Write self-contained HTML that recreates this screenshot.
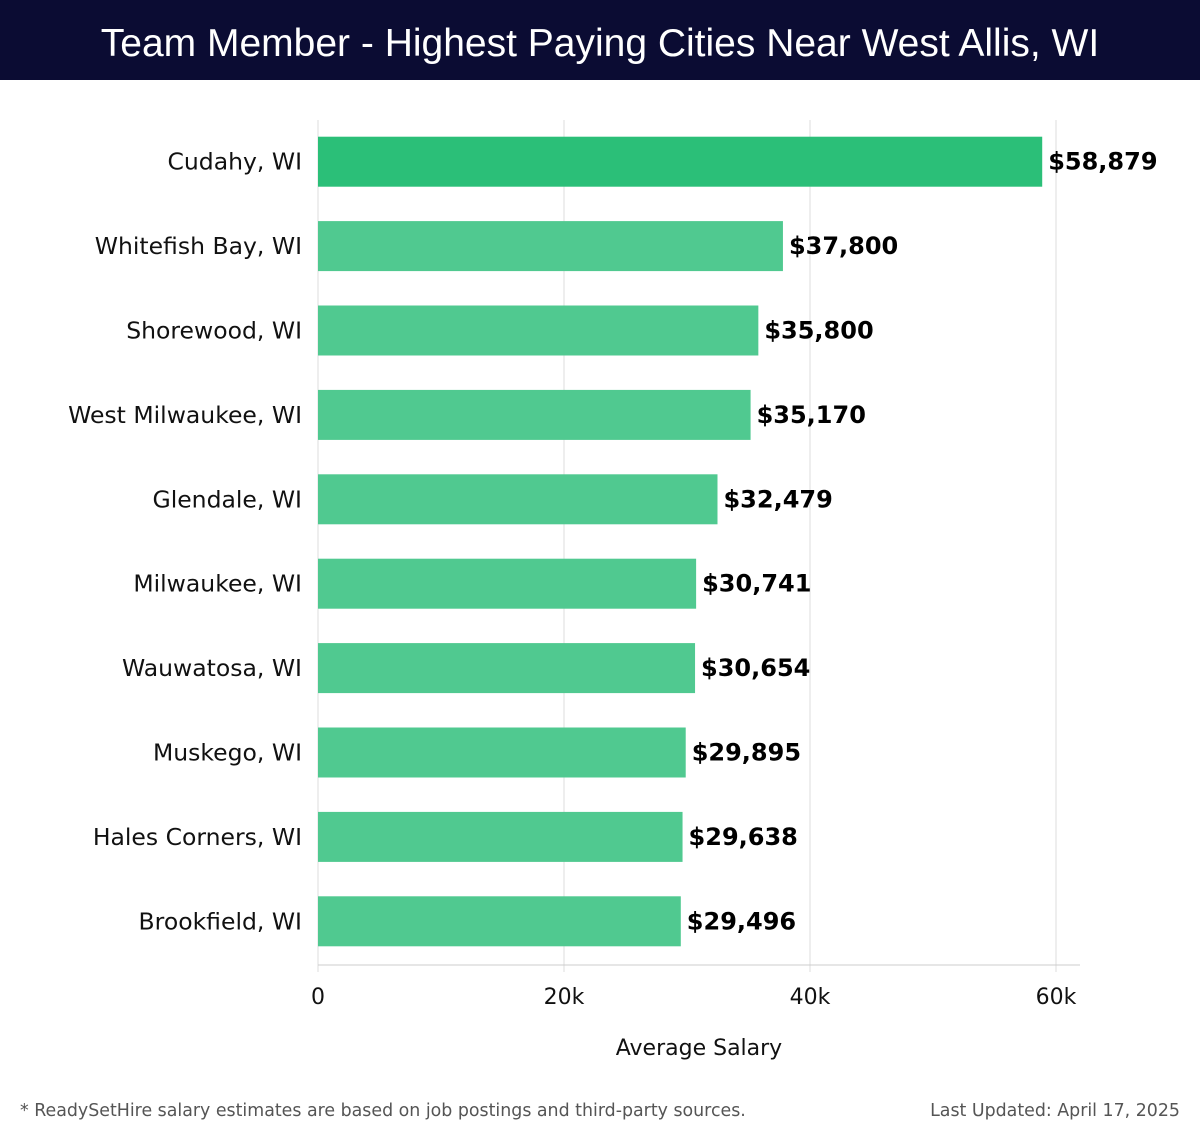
<!DOCTYPE html>
<html><head><meta charset="utf-8"><style>
body{margin:0;width:1200px;height:1140px;background:#fff;font-family:"DejaVu Sans","Liberation Sans",sans-serif;overflow:hidden}
#hdr{position:absolute;left:0;top:0;width:1200px;height:80px;background:#0b0c33;color:#fff;font-size:39px;text-align:center;line-height:88px;font-family:"Liberation Sans",sans-serif}
.foot{position:absolute;top:1101px;font-size:17.4px;color:#555}
</style></head><body>
<div id="hdr">Team Member - Highest Paying Cities Near West Allis, WI</div>
<svg id="chart" width="1200" height="1140" style="position:absolute;left:0;top:0;pointer-events:none"></svg>
<div class="foot" style="left:20px">* ReadySetHire salary estimates are based on job postings and third-party sources.</div>
<div class="foot" style="right:20px">Last Updated: April 17, 2025</div>
<script>
const categories=["Cudahy, WI","Whitefish Bay, WI","Shorewood, WI","West Milwaukee, WI","Glendale, WI","Milwaukee, WI","Wauwatosa, WI","Muskego, WI","Hales Corners, WI","Brookfield, WI"];
const values=[58879,37800,35800,35170,32479,30741,30654,29895,29638,29496];
const valueLabels=["$58,879","$37,800","$35,800","$35,170","$32,479","$30,741","$30,654","$29,895","$29,638","$29,496"];
const ticks=[0,20000,40000,60000];
const tickLabels=["0","20k","40k","60k"];
const NS="http://www.w3.org/2000/svg";
const svg=document.getElementById('chart');
const x0=318,pxPer=(1056-318)/60000,plotTop=120,plotBottom=965,step=(plotBottom-plotTop-1)/categories.length;
const xs=v=>x0+v*pxPer;
function mk(t,a,txt){const e=document.createElementNS(NS,t);for(const k in a)e.setAttribute(k,a[k]);if(txt!=null)e.textContent=txt;svg.appendChild(e);return e;}
ticks.forEach((t,i)=>{
 const g=mk('line',{x1:xs(t),x2:xs(t),y1:plotTop,y2:972,stroke:'#dddddd','stroke-width':1});
 
 
 const l=mk('text',{x:xs(t),y:1004,'text-anchor':'middle','font-size':22,fill:'#111'},tickLabels[i]);
 
 
});
const ax=mk('line',{x1:x0,x2:1080,y1:plotBottom,y2:plotBottom,stroke:'#cccccc','stroke-width':1});


categories.forEach((c,i)=>{
 const cy=plotTop+step*(i+0.5)-0.5;
 const r=mk('rect',{x:x0,y:cy-25,width:xs(values[i])-x0,height:50,fill:i===0?'#2bbf78':'#50c990'});
 
 
 const l=mk('text',{x:302,y:cy+8,'text-anchor':'end','font-size':23.5,fill:'#111'},c);
 
 
 const v=mk('text',{x:xs(values[i])+6,y:cy+8,'font-size':24,'font-weight':'bold',fill:'#000'},valueLabels[i]);
 
 
});
const at=mk('text',{x:699,y:1055,'text-anchor':'middle','font-size':22,fill:'#111'},'Average Salary');


</script>
</body></html>
